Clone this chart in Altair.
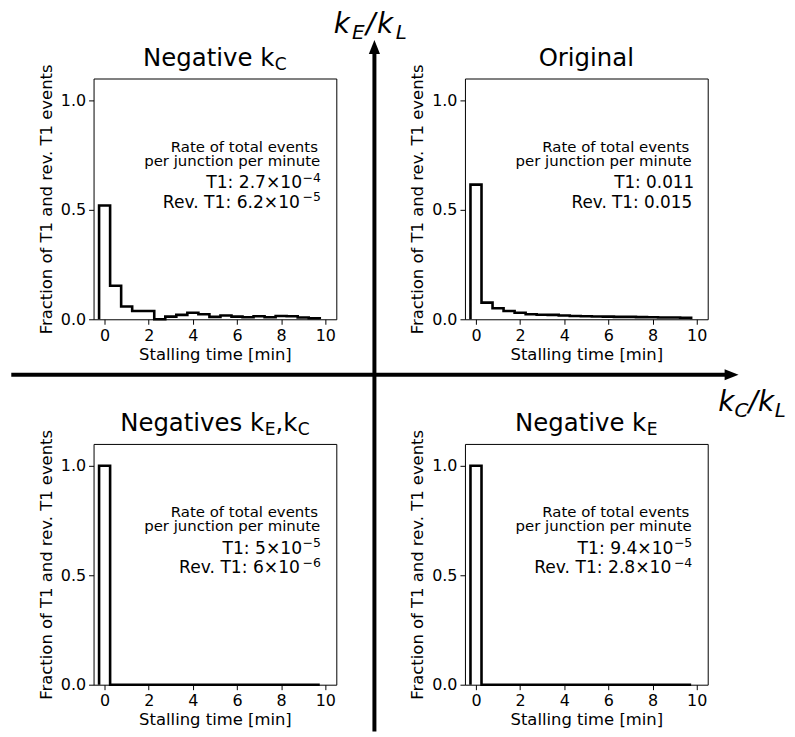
import altair as alt
import pandas as pd

FONT = "DejaVu Sans"

# ---------------- data ----------------
bin_centers = [0.0, 0.5, 1.0, 1.5, 2.0, 2.5, 3.0, 3.5, 4.0, 4.5,
               5.0, 5.5, 6.0, 6.5, 7.0, 7.5, 8.0, 8.5, 9.0, 9.5]
bin_width = 0.5

neg_kc = [0.52, 0.153, 0.058, 0.038, 0.038, 0.0, 0.012, 0.020, 0.030, 0.023,
          0.011, 0.017, 0.012, 0.009, 0.014, 0.009, 0.015, 0.014, 0.008, 0.005]
original = [0.615, 0.076, 0.050, 0.038, 0.030, 0.023, 0.021, 0.020, 0.017, 0.015,
            0.014, 0.013, 0.012, 0.011, 0.011, 0.010, 0.009, 0.008, 0.008, 0.007]
neg_ke_kc = [1.0, 0.0, 0.0, 0.0, 0.0, 0.0, 0.0, 0.0, 0.0, 0.0,
             0.0, 0.0, 0.0, 0.0, 0.0, 0.0, 0.0, 0.0, 0.0, 0.0]
neg_ke = [1.0, 0.0, 0.0, 0.0, 0.0, 0.0, 0.0, 0.0, 0.0, 0.0,
          0.0, 0.0, 0.0, 0.0, 0.0, 0.0, 0.0, 0.0, 0.0, 0.0]

x_ticks = [0, 2, 4, 6, 8, 10]
y_ticks = [0.0, 0.5, 1.0]
x_domain = [-0.5, 10.5]
y_domain = [0.0, 1.1]

# rates: (main text, superscript or None)
rates_neg_kc = [("T1: 2.7×10", "−4"), ("Rev. T1: 6.2×10", "−5")]
rates_original = [("T1: 0.011", None), ("Rev. T1: 0.015", None)]
rates_neg_ke_kc = [("T1: 5×10", "−5"), ("Rev. T1: 6×10", "−6")]
rates_neg_ke = [("T1: 9.4×10", "−5"), ("Rev. T1: 2.8×10", "−4")]

rate_header = ["Rate of total events", "per junction per minute"]

# ---------------- layout helpers ----------------
W = {' ': .318, 'N': .748, 'e': .615, 'g': .635, 'a': .613, 't': .392, 'i': .278,
     'v': .592, 's': .521, 'k': .579, 'O': .787, 'r': .411, 'n': .634, 'l': .278,
     'C': .698, 'E': .632, 'L': .557, ',': .318, '/': .337, 'T': .611, ':': .337,
     '.': .318, '×': .838, '−': .838, 'R': .695, 'o': .612, 'f': .352}
for d in "0123456789":
    W[d] = .636


def tw(s, fs):
    return sum(W.get(c, 0.6) for c in s) * fs


ONE = alt.Data(values=[{}])


def txt(t, x, y, fs, style="normal", align="left"):
    return alt.Chart(ONE).mark_text(text=t, align=align, baseline="alphabetic",
                                    font=FONT, fontSize=fs, fontStyle=style,
                                    color="black").encode(
        x=alt.value(x), y=alt.value(y))


def text_segs(segs, x, y, anchor):
    """segs: list of (text, fontsize, dy, style[, gap_before])"""
    segs = [s if len(s) == 5 else tuple(s) + (0,) for s in segs]
    widths = [tw(t, fs) + g for t, fs, dy, st, g in segs]
    total = sum(widths)
    if anchor == "center":
        x0 = x - total / 2
    elif anchor == "right":
        x0 = x - total
    else:
        x0 = x
    out = []
    for (t, fs, dy, st, g), w in zip(segs, widths):
        out.append(txt(t, x0 + g, y + dy, fs, st))
        x0 += w
    return out


PW, PH = 244, 242
TFS = 24.5
SUB = 0.7


def title_segs(parts):
    segs = []
    for t, kind in parts:
        if kind == "n":
            segs.append((t, TFS, 0, "normal"))
        else:
            segs.append((t, TFS * SUB, 4.5, "normal", 0.5))
    return segs


def panel(vals, title_parts, rates):
    rows = []
    i = 0
    rows.append({"x": bin_centers[0] - bin_width / 2, "y": 0.0, "i": i})
    for c, v in zip(bin_centers, vals):
        i += 1
        rows.append({"x": c - bin_width / 2, "y": v, "i": i})
        i += 1
        rows.append({"x": c + bin_width / 2, "y": v, "i": i})
    i += 1
    rows.append({"x": bin_centers[-1] + bin_width / 2, "y": 0.0, "i": i})
    df = pd.DataFrame(rows)

    line = alt.Chart(df).mark_line(color="black", strokeWidth=2.6,
                                   strokeJoin="miter", strokeCap="butt").encode(
        x=alt.X("x:Q", scale=alt.Scale(domain=x_domain, nice=False, zero=False),
                axis=alt.Axis(values=x_ticks, title="Stalling time [min]",
                              titlePadding=3, labelFlush=False)),
        y=alt.Y("y:Q", scale=alt.Scale(domain=y_domain, nice=False, zero=False),
                axis=alt.Axis(values=y_ticks, format=".1f",
                              title="Fraction of T1 and rev. T1 events",
                              titlePadding=6)),
        order=alt.Order("i:Q"),
    )

    layers = [line]
    layers += text_segs(title_segs(title_parts), PW / 2, -13, "center")
    layers += text_segs([(rate_header[0], 15, 0, "normal")], 226, 73.5, "right")
    layers += text_segs([(rate_header[1], 15, 0, "normal")], 226, 88, "right")
    for (main, sup), yb in zip(rates, [110.5, 130]):
        if sup is None:
            layers += text_segs([(main, 16.9, 0, "normal")], 230.5, yb, "right")
        else:
            layers += text_segs([(main, 17.2, 0, "normal"),
                                 (sup, 12.5, -6.5, "normal", 0.5)], 228.5, yb, "right")
    return layers


p1 = panel(neg_kc, [("Negative k", "n"), ("C", "s")], rates_neg_kc)
p2 = panel(original, [("Original", "n")], rates_original)
p3 = panel(neg_ke_kc, [("Negatives k", "n"), ("E", "s"), (",k", "n"), ("C", "s")],
           rates_neg_ke_kc)
p4 = panel(neg_ke, [("Negative k", "n"), ("E", "s")], rates_neg_ke)

# ---------------- quadrant arrows (decoration, in px of first panel) -------
OX, OY = 92.7, 75.7   # page position of the first panel's plot origin
deco = []
deco.append(alt.Chart(ONE).mark_rule(opacity=0, strokeWidth=1).encode(
    x=alt.value(0), x2=alt.value(10), y=alt.value(-67.2)))
deco.append(alt.Chart(ONE).mark_rule(color="black", strokeWidth=4, strokeCap="butt").encode(
    x=alt.value(10 - OX), x2=alt.value(728 - OX), y=alt.value(373.5 - OY)))
deco.append(alt.Chart(ONE).mark_point(shape="M-1,-0.8L1,0L-1,0.8Z", size=196,
                                      filled=True, color="black", opacity=1,
                                      strokeWidth=0).encode(
    x=alt.value(734 - OX), y=alt.value(373.5 - OY)))
deco.append(alt.Chart(ONE).mark_rule(color="black", strokeWidth=4, strokeCap="butt").encode(
    x=alt.value(375 - OX), y=alt.value(50 - OY), y2=alt.value(732 - OY)))
deco.append(alt.Chart(ONE).mark_point(shape="M-0.8,1L0,-1L0.8,1Z", size=196,
                                      filled=True, color="black", opacity=1,
                                      strokeWidth=0).encode(
    x=alt.value(375 - OX), y=alt.value(44 - OY)))

AF = 28
AS = 20
# k_E / k_L  (top)
yb = 29.8 - OY
deco += [txt("k", 334 - OX, yb, AF, "italic"),
         txt("E", 352.5 - OX, yb + 6.0, AS, "italic"),
         txt("/", 366.5 - OX, yb, AF, "italic"),
         txt("k", 377.5 - OX, yb, AF, "italic"),
         txt("L", 396.5 - OX, yb + 6.0, AS, "italic")]
# k_C / k_L  (right)
yb = 410 - OY
deco += [txt("k", 720.5 - OX, yb, AF, "italic"),
         txt("C", 737 - OX, yb + 5.5, AS, "italic"),
         txt("/", 751 - OX, yb, AF, "italic"),
         txt("k", 760.5 - OX, yb, AF, "italic"),
         txt("L", 777.5 - OX, yb + 5.5, AS, "italic")]

c1 = alt.layer(*(p1 + deco)).properties(width=PW, height=PH)
c2 = alt.layer(*p2).properties(width=PW, height=PH)
c3 = alt.layer(*p3).properties(width=PW, height=PH)
c4 = alt.layer(*p4).properties(width=PW, height=PH)

chart = alt.concat(c1, c2, c3, c4, columns=2,
                   spacing={"row": 125.3, "column": 129.3},
                   bounds="flush").properties(
    padding=0, background="white"
).configure_view(
    stroke="black", strokeWidth=1
).configure_axis(
    labelFont=FONT, labelFontSize=16, labelColor="black",
    titleFont=FONT, titleFontSize=16.5, titleFontWeight="normal", titleColor="black",
    tickColor="black", tickSize=5, tickWidth=1, labelPadding=3,
    domain=False, grid=False
)

chart.save("out.html", embed_options={"renderer": "svg", "actions": False})
